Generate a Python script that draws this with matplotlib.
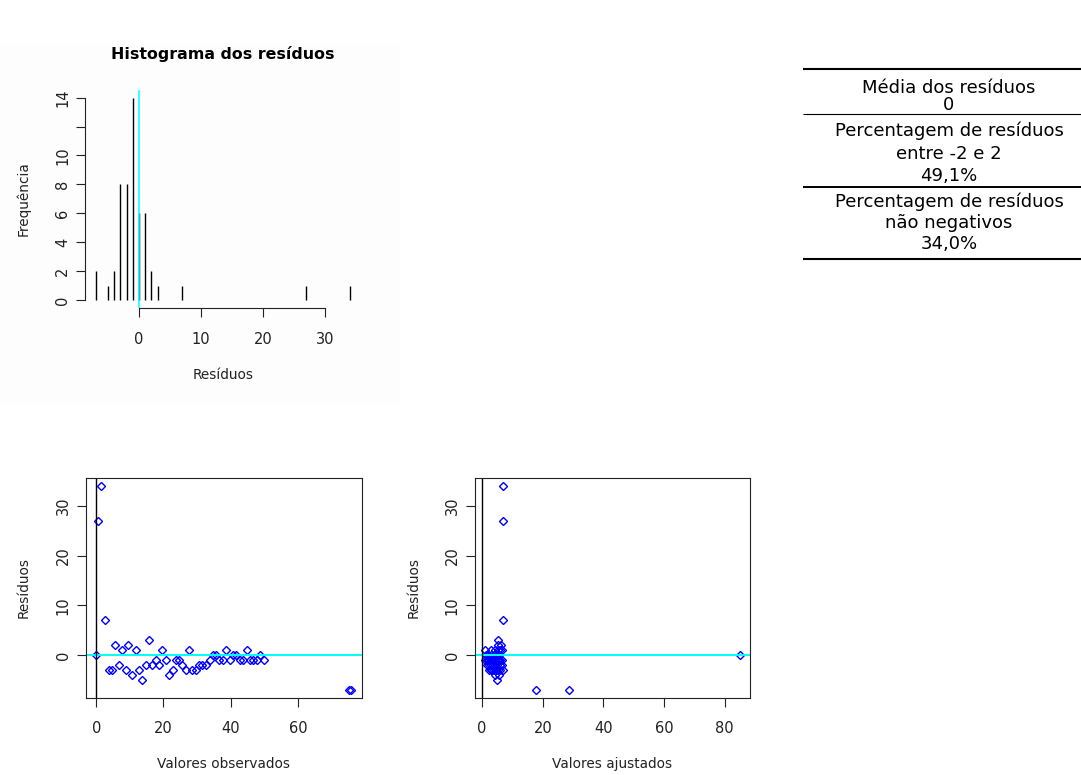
import numpy as np
import matplotlib
matplotlib.use("Agg")
import matplotlib.pyplot as plt
from matplotlib.patches import Rectangle

plt.rcParams['font.family'] = ['DejaVu Sans']

# observacoes (valor observado, valor ajustado, residuo)
observados = [0, 0.5, 1.5, 2.6, 3.7, 4.7, 5.7, 6.9, 7.7, 8.9, 9.5, 10.7, 11.7, 12.7,
              13.7, 14.7, 15.7, 16.7, 17.7, 18.7, 19.7, 20.7, 21.7, 22.7, 23.7, 24.7,
              25.6, 26.6, 27.6, 28.6, 29.6, 30.6, 31.6, 32.6, 33.7, 34.6, 35.6, 36.6,
              37.7, 38.7, 39.7, 40.7, 41.7, 42.7, 43.7, 44.7, 45.7, 46.7, 47.7, 48.7,
              49.9, 75.1, 75.9]
ajustados = [85.0, 7.0, 7.0, 7.0, 2.2, 2.8, 5.3, 1.6, 1.0, 3.4, 6.1, 4.2, 2.8, 4.0,
             5.0, 2.4, 5.1, 3.0, 1.0, 3.6, 4.4, 1.5, 5.4, 4.6, 2.0, 2.4, 4.2, 5.2,
             5.2, 6.0, 7.0, 5.0, 5.8, 6.4, 2.8, 1.2, 2.0, 3.2, 3.6, 5.8, 4.0, 3.0,
             4.6, 4.3, 4.8, 6.4, 5.2, 5.6, 6.0, 5.4, 6.4, 17.7, 28.8]
residuos = [0, 27, 34, 7, -3, -3, 2, -2, 1, -3, 2, -4, 1, -3, -5, -2, 3, -2, -1, -2,
            1, -1, -4, -3, -1, -1, -2, -3, 1, -3, -3, -2, -2, -2, -1, 0, 0, -1, -1,
            1, -1, 0, 0, -1, -1, 1, -1, -1, -1, 0, -1, -7, -7]

ticks_hist_x = [0, 10, 20, 30]
ticks_hist_y = [0, 2, 4, 6, 8, 10, 12, 14]
rotulos_hist_y = ['0', '2', '4', '6', '8', '10', '', '14']
ticks_res = [0, 10, 20, 30]
ticks_obs = [0, 20, 40, 60]
ticks_ajust = [0, 20, 40, 60, 80]

W, H = 1081, 775
TXT = 9.8
TICK = 10.5
fig = plt.figure(figsize=(W / 100, H / 100), dpi=100)
fig.patch.set_facecolor('white')


def eixo_px(x0, y0, x1, y1):
    return fig.add_axes([x0 / W, 1 - y1 / H, (x1 - x0) / W, (y1 - y0) / H])


def limites(v):
    lo, hi = min(v), max(v)
    d = 0.04 * (hi - lo)
    return lo - d, hi + d


def estilo(ax, xt, yt, ylab=None):
    ax.set_xticks(xt)
    ax.set_yticks(yt)
    if ylab is not None:
        ax.set_yticklabels(ylab)
    ax.tick_params(axis='both', length=6.5, width=0.8, colors='#222222',
                   labelsize=TICK, labelcolor='#222222')
    ax.tick_params(axis='x', pad=10.5)
    ax.tick_params(axis='y', pad=4.5)
    plt.setp(ax.get_yticklabels(), rotation=90, va='center')


def rotulos(ax, xlabel, ylabel, ypos_x, xpos_y):
    ax.set_xlabel(xlabel, fontsize=TXT, color='#222222')
    ax.set_ylabel(ylabel, fontsize=TXT, color='#222222')
    ax.xaxis.set_label_coords(0.5, xpos_y)
    ax.yaxis.set_label_coords(ypos_x, 0.5)
    ax.xaxis.label.set_va('center')
    ax.yaxis.label.set_va('center')


# fundo do painel do histograma
fig.add_artist(Rectangle((0, 1 - 405 / H), 400 / W, 360 / H, transform=fig.transFigure,
                         facecolor='#fdfdfd', edgecolor='none', zorder=0))

# histograma dos residuos
valores, contagens = np.unique(residuos, return_counts=True)
ax1 = eixo_px(85.4, 89.6, 360, 308.1)
ax1.set_facecolor('none')
ax1.vlines(valores, 0, contagens, color='black', lw=1.0)
ax1.axvline(0, color='cyan', lw=1.1)
ax1.set_xlim(limites(valores))
ax1.set_ylim(limites([0, contagens.max()]))
for s in ['top', 'right']:
    ax1.spines[s].set_visible(False)
ax1.spines['left'].set_bounds(0, 14)
ax1.spines['bottom'].set_bounds(0, 30)
for s in ['left', 'bottom']:
    ax1.spines[s].set_color('#222222')
    ax1.spines[s].set_linewidth(0.8)
estilo(ax1, ticks_hist_x, ticks_hist_y, rotulos_hist_y)
rotulos(ax1, 'Resíduos', 'Frequência', (23 - 85.4) / 274.6, (308.1 - 375) / 218.5)
ax1.set_title('Histograma dos resíduos', fontsize=11.4, fontweight='bold', pad=22)

# residuos x valores observados
ax2 = eixo_px(86, 478.3, 361.7, 697.7)
ax2.plot(observados, residuos, ls='none', marker='D', ms=3.8, mfc='none',
         mec='blue', mew=1.0)
ax2.axhline(0, color='cyan', lw=1.4)
ax2.axvline(0, color='black', lw=1)
ax2.set_xlim(limites(observados))
ax2.set_ylim(limites(residuos))
estilo(ax2, ticks_obs, ticks_res)
rotulos(ax2, 'Valores observados', 'Resíduos', (23.3 - 86) / 275.7, (697.7 - 764) / 219.4)

# residuos x valores ajustados
ax3 = eixo_px(475, 478.3, 750, 697.7)
ax3.plot(ajustados, residuos, ls='none', marker='D', ms=3.8, mfc='none',
         mec='blue', mew=1.0)
ax3.axhline(0, color='cyan', lw=1.4)
ax3.axvline(0, color='black', lw=1)
ax3.set_xlim(limites(ajustados))
ax3.set_ylim(limites(residuos))
estilo(ax3, ticks_ajust, ticks_res)
rotulos(ax3, 'Valores ajustados', 'Resíduos', (413.3 - 475) / 275, (697.7 - 764) / 219.4)

for ax in (ax2, ax3):
    for s in ax.spines.values():
        s.set_color('#222222')
        s.set_linewidth(0.8)

# tabela resumo
res = np.array(residuos)
media = np.mean(res)
pct_entre = np.mean(np.abs(res) < 2) * 100
pct_nao_neg = np.mean(res >= 0) * 100


def pct(v):
    return f"{v:.1f}%".replace('.', ',')


celulas = [
    ["Média dos resíduos", f"{abs(round(media, 2)):g}"],
    ["Percentagem de resíduos", "entre -2 e 2", pct(pct_entre)],
    ["Percentagem de resíduos", "não negativos", pct(pct_nao_neg)],
]
bases = [[93.3, 110], [136, 159.3, 180.7], [206.7, 228.3, 249.3]]
regras = [(69.3, 1.5), (114.3, 0.8), (186.5, 1.4), (259, 1.5)]

axt = eixo_px(803, 60, 1081, 270)
axt.set_xlim(803, 1081)
axt.set_ylim(270, 60)
axt.axis('off')
for y, lw in regras:
    axt.plot([803, 1081], [y, y], color='black', lw=lw, solid_capstyle='butt')
for linhas, ys in zip(celulas, bases):
    for txt, y in zip(linhas, ys):
        axt.text(949, y, txt, ha='center', va='baseline', fontsize=13, color='black')

fig.savefig('out.png', dpi=100, facecolor='white')
